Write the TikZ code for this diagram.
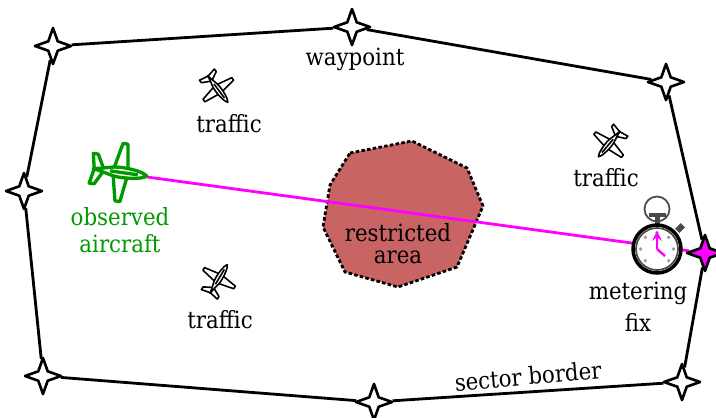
\documentclass[tikz,border=0pt]{standalone}
\usepackage{fontspec}
\setmainfont{DejaVu Serif Condensed}
\usepackage{xcolor}
\usetikzlibrary{shapes.geometric, backgrounds}
\definecolor{obsgreen}{HTML}{009900}
\definecolor{zonered}{HTML}{C86464}
\definecolor{clockgrey}{HTML}{4A4A4A}
\definecolor{routepink}{HTML}{FF00FF}
\tikzstyle{waypoint} = [star, star points=4, star point ratio=2.7, minimum size=0.72cm, inner sep=0pt, draw=black, fill=white, line width=1.5pt, line join=round]
\tikzstyle{border} = [line width=1.6pt, line join=round]
\tikzstyle{route} = [line width=1.6pt, draw=routepink]
\tikzstyle{zone} = [fill=zonered, draw=black, line width=1.6pt, dash pattern=on 2pt off 1.3pt]
\tikzstyle{lbl} = [font=\fontsize{13.5}{13.5}\selectfont, align=center, inner sep=0pt]
\tikzset{
  plane/.pic={
    \begin{scope}[x=0.02cm, y=0.02cm, draw=#1, fill=white, line join=round]
      \filldraw (-5,-1) -- (1,-29) -- (6,-29) -- (10,-1) -- (10,1) -- (6,29) -- (1,29) -- (-5,1) -- cycle;
      \filldraw (-24,0) -- (-27,-15) -- (-22,-15) -- (-14,0) -- (-22,15) -- (-27,15) -- cycle;
      \filldraw (-25,0) .. controls (-12,-2) and (-6,-5) .. (2,-5) .. controls (12,-5) and (24,-4) .. (29,0) .. controls (24,4) and (12,5) .. (2,5) .. controls (-6,5) and (-12,2) .. (-25,0) -- cycle;
      \draw (-8,0) -- (20,0);
    \end{scope}
  }
}
\begin{document}
\begin{tikzpicture}[x=0.02cm, y=-0.02cm]
  \useasboundingbox (0,0) rectangle (716,417);
  % border of the sector
  \node[waypoint] (nw) at (53,46) {};
  \node[waypoint] (top) at (352,27) {};
  \node[waypoint] (ne) at (666,82) {};
  \node[waypoint, fill=routepink] (fix) at (705,253) {};
  \node[waypoint] (se) at (682,382) {};
  \node[waypoint] (bottom) at (374,402) {};
  \node[waypoint] (sw) at (43,376) {};
  \node[waypoint] (west) at (24,191) {};
  \coordinate (nose) at (147,177);

  \begin{scope}[on background layer]
    \draw[border] (nw) -- (top) -- (ne) -- (fix) -- (se) -- (bottom) -- (sw) -- (west) -- (nw);
    \draw[zone] (350,153) -- (412,141) -- (467,168) -- (483,206) -- (457,267) -- (398,287) -- (345,272) -- (323,227) -- (330,185) -- cycle;
    \draw[route] (nose) -- (fix);
  \end{scope}

  \pic[line width=1.9pt] at (118,172) [rotate=-8] {plane=obsgreen};
  \pic[line width=0.9pt, scale=0.62] at (217,88) [rotate=-53] {plane=black};
  \pic[line width=0.9pt, scale=0.62] at (610,143) [rotate=-130] {plane=black};
  \pic[line width=0.9pt, scale=0.62] at (218,280) [rotate=59] {plane=black};

  % stopwatch
  \node[circle, draw=clockgrey, line width=1pt, minimum size=0.5cm, inner sep=0pt] (loop) at (657,209) {};
  \fill[clockgrey] (648.5,213) rectangle (665.5,216.5);
  \fill[clockgrey] (654.5,216) rectangle (659.5,226);
  \fill[clockgrey, rotate around={45:(680,228)}] (676,225) rectangle (684,231);
  \node[circle, draw=black, fill=white, line width=2pt, minimum size=0.96cm, inner sep=0pt] (watch) at (657,249) {};
  \draw[clockgrey, line width=1pt] (watch.center) circle (21);
  \foreach \a in {0,45,90,135,180,225,315} {
    \fill[black!40] (watch.center) ++(\a:16.5 and -16.5) circle (1.8);
  }
  \draw[routepink, line width=1.4pt, -stealth] (watch.center) -- (657,231);
  \draw[routepink, line width=1.4pt] (watch.center) -- (665,256);

  % labels
  \node[lbl] (wplabel) at (355,59) {waypoint};
  \node[lbl] (tr1) at (229,124) {traffic};
  \node[lbl] (tr2) at (606,178) {traffic};
  \node[lbl] (tr3) at (220,320) {traffic};
  \node[lbl, text=obsgreen] (obs) at (120,230) {observed\\[1.5pt]aircraft};
  \node[lbl] (rest) at (398,244) {restricted\\[-1pt]area};
  \node[lbl] (metering) at (638,307) {metering\\[5pt]fix};
  \node[lbl, rotate=5] (sector) at (528,376) {sector border};
\end{tikzpicture}
\end{document}
